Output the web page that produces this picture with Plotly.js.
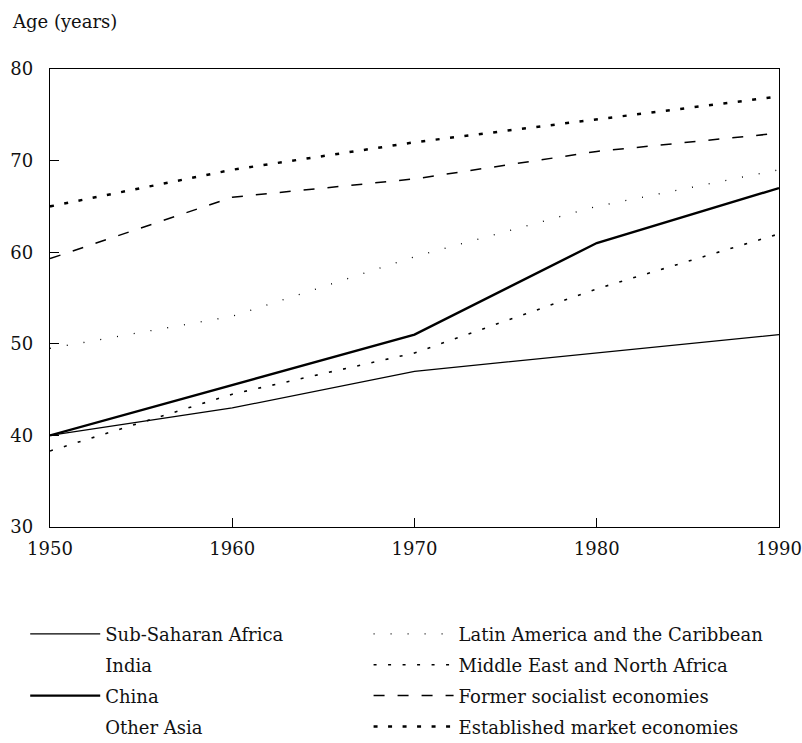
<!DOCTYPE html>
<html>
<head>
<meta charset="utf-8">
<script src="https://cdn.plot.ly/plotly-3.0.1.min.js"></script>
<style>html,body{margin:0;padding:0;background:#fff;}#chart{width:802px;height:743px;}</style>
</head>
<body>
<div id="chart"></div>
<script>
const years = [1950, 1960, 1970, 1980, 1990];
const subSaharanAfrica = [40, 43, 47, 49, 51];
const india = [null, null, null, null, null];
const china = [40, 45.5, 51, 61, 67];
const otherAsia = [null, null, null, null, null];
const latinAmerica = [49.5, 53, 59.5, 65, 69];
const middleEast = [38.3, 44.5, 49, 56, 62];
const formerSocialist = [59.3, 66, 68, 71, 73];
const establishedMarket = [65, 69, 72, 74.5, 77];

const seriesNames = ["Sub-Saharan Africa", "India", "China", "Other Asia",
  "Latin America and the Caribbean", "Middle East and North Africa",
  "Former socialist economies", "Established market economies"];
const xTicks = [1950, 1960, 1970, 1980, 1990];
const yTicks = [30, 40, 50, 60, 70, 80];

const styles = {
  "Sub-Saharan Africa": {color: "#000", width: 1.3, dash: "solid"},
  "India": {color: "rgba(0,0,0,0)", width: 1, dash: "solid"},
  "China": {color: "#000", width: 2.4, dash: "solid"},
  "Other Asia": {color: "rgba(0,0,0,0)", width: 1, dash: "solid"},
  "Latin America and the Caribbean": {color: "#000", width: 1.3, dash: "1px,16px"},
  "Middle East and North Africa": {color: "#000", width: 1.6, dash: "3px,11.5px"},
  "Former socialist economies": {color: "#000", width: 1.5, dash: "11px,13px"},
  "Established market economies": {color: "#000", width: 2.5, dash: "4px,10.5px"}
};
const dataMap = {
  "Sub-Saharan Africa": subSaharanAfrica,
  "India": india,
  "China": china,
  "Other Asia": otherAsia,
  "Latin America and the Caribbean": latinAmerica,
  "Middle East and North Africa": middleEast,
  "Former socialist economies": formerSocialist,
  "Established market economies": establishedMarket
};
const traces = seriesNames.map((n, i) => ({
  x: years, y: dataMap[n], name: n, type: "scatter", mode: "lines",
  line: styles[n], connectgaps: false, hoverinfo: "skip",
  legend: i < 4 ? "legend" : "legend2", legendgroup: "g" + i
}));

const FAM = "DejaVu Serif, Liberation Serif, serif";
const FS = 18;
const font = {family: FAM, color: "#111", size: FS};
const legendCommon = {orientation: "v", yanchor: "top", xanchor: "left",
  itemwidth: 70, tracegroupgap: 4.5, bgcolor: "rgba(0,0,0,0)",
  font: {family: FAM, size: FS, color: "#111"}, traceorder: "grouped"};
const layout = {
  width: 802, height: 743,
  margin: {l: 50, r: 23, t: 69, b: 216, autoexpand: false},
  paper_bgcolor: "#fff", plot_bgcolor: "#fff",
  font: font,
  showlegend: true,
  legend: Object.assign({}, legendCommon, {x: -0.034, y: -0.1935}),
  legend2: Object.assign({}, legendCommon, {x: 0.437, y: -0.1935, itemwidth: 80}),
  xaxis: {range: [1950, 1990], tickvals: xTicks, ticktext: xTicks.map(String),
    ticks: "inside", ticklen: 9, tickcolor: "#000", tickwidth: 1, ticklabelstandoff: 5,
    showline: true, linecolor: "#000", linewidth: 1.2, mirror: true,
    showgrid: false, zeroline: false, fixedrange: true},
  yaxis: {range: [30, 80], tickvals: yTicks, ticktext: yTicks.map(String),
    ticks: "inside", ticklen: 9, tickcolor: "#000", tickwidth: 1, ticklabelstandoff: 12,
    showline: true, linecolor: "#000", linewidth: 1.2, mirror: true,
    showgrid: false, zeroline: false, fixedrange: true},
  annotations: [{text: "Age (years)", xref: "paper", yref: "paper", x: -0.055, y: 1.103,
    xanchor: "left", yanchor: "middle", showarrow: false, font: {family: FAM, size: FS, color: "#111"}}]
};
Plotly.newPlot("chart", traces, layout, {displayModeBar: false, staticPlot: true});
</script>
</body>
</html>
